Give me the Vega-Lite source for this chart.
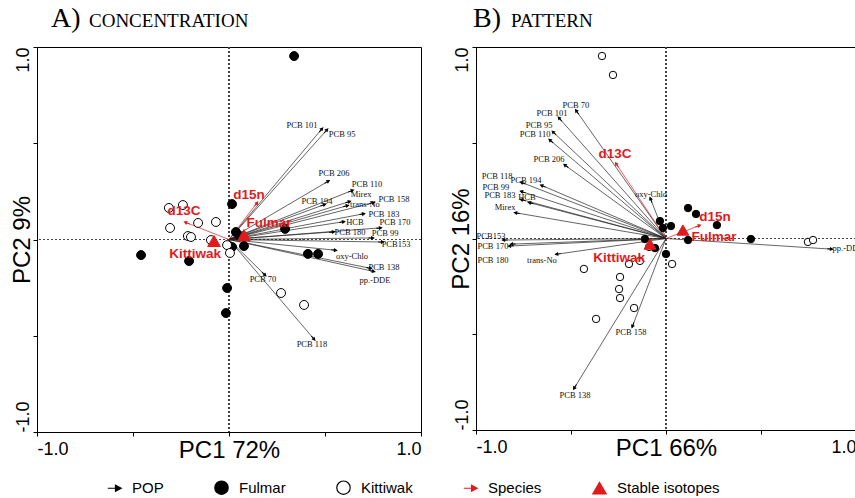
{
  "$schema": "https://vega.github.io/schema/vega-lite/v6.json",
  "padding": {"left": 9, "top": 4, "right": 0, "bottom": 0},
  "background": "white",
  "spacing": 26,
  "datasets": {
    "a": [
      {"cat": "Fulmar", "x": 0.339, "y": 0.953},
      {"cat": "Fulmar", "x": 0.016, "y": 0.184},
      {"cat": "Fulmar", "x": 0.036, "y": 0.039},
      {"cat": "Fulmar", "x": 0.057, "y": 0.018},
      {"cat": "Fulmar", "x": 0.016, "y": -0.039},
      {"cat": "Fulmar", "x": 0.078, "y": -0.034},
      {"cat": "Fulmar", "x": 0.292, "y": 0.055},
      {"cat": "Fulmar", "x": -0.458, "y": -0.081},
      {"cat": "Fulmar", "x": -0.208, "y": -0.112},
      {"cat": "Fulmar", "x": 0.411, "y": -0.075},
      {"cat": "Fulmar", "x": 0.464, "y": -0.075},
      {"cat": "Fulmar", "x": -0.010, "y": -0.252},
      {"cat": "Fulmar", "x": -0.016, "y": -0.382},
      {"cat": "Kittiwak", "x": -0.313, "y": 0.164},
      {"cat": "Kittiwak", "x": -0.240, "y": 0.179},
      {"cat": "Kittiwak", "x": -0.307, "y": 0.060},
      {"cat": "Kittiwak", "x": -0.161, "y": 0.086},
      {"cat": "Kittiwak", "x": -0.068, "y": 0.091},
      {"cat": "Kittiwak", "x": -0.214, "y": 0.018},
      {"cat": "Kittiwak", "x": -0.198, "y": 0.013},
      {"cat": "Kittiwak", "x": -0.094, "y": -0.003},
      {"cat": "Kittiwak", "x": -0.010, "y": -0.029},
      {"cat": "Kittiwak", "x": 0.005, "y": -0.070},
      {"cat": "Kittiwak", "x": 0.271, "y": -0.278},
      {"cat": "Kittiwak", "x": 0.391, "y": -0.340},
      {"cat": "POP", "x": 0.479, "y": 0.569, "label": "PCB 101", "lx": 0.380, "ly": 0.595},
      {"cat": "POP", "x": 0.505, "y": 0.564, "label": "PCB 95", "lx": 0.589, "ly": 0.548},
      {"cat": "POP", "x": 0.510, "y": 0.299, "label": "PCB 206", "lx": 0.547, "ly": 0.345},
      {"cat": "POP", "x": 0.635, "y": 0.252, "label": "PCB 110", "lx": 0.719, "ly": 0.288},
      {"cat": "POP", "x": 0.620, "y": 0.195, "label": "Mirex", "lx": 0.688, "ly": 0.236},
      {"cat": "POP", "x": 0.609, "y": 0.174, "label": "trans-No", "lx": 0.708, "ly": 0.184},
      {"cat": "POP", "x": 0.490, "y": 0.179, "label": "PCB 194", "lx": 0.458, "ly": 0.200},
      {"cat": "POP", "x": 0.745, "y": 0.190, "label": "PCB 158", "lx": 0.859, "ly": 0.210},
      {"cat": "POP", "x": 0.693, "y": 0.132, "label": "PCB 183", "lx": 0.807, "ly": 0.132},
      {"cat": "POP", "x": 0.589, "y": 0.091, "label": "HCB", "lx": 0.656, "ly": 0.091},
      {"cat": "POP", "x": 0.781, "y": 0.060, "label": "PCB 170", "lx": 0.865, "ly": 0.091},
      {"cat": "POP", "x": 0.536, "y": 0.039, "label": "PCB 180", "lx": 0.630, "ly": 0.039},
      {"cat": "POP", "x": 0.740, "y": 0.008, "label": "PCB 99", "lx": 0.813, "ly": 0.034},
      {"cat": "POP", "x": 0.792, "y": -0.013, "label": "PCB153", "lx": 0.870, "ly": -0.023},
      {"cat": "POP", "x": 0.547, "y": -0.055, "label": "oxy-Chlo", "lx": 0.641, "ly": -0.086},
      {"cat": "POP", "x": 0.729, "y": -0.148, "label": "PCB 138", "lx": 0.807, "ly": -0.143},
      {"cat": "POP", "x": 0.745, "y": -0.164, "label": "pp.-DDE", "lx": 0.760, "ly": -0.210},
      {"cat": "POP", "x": 0.182, "y": -0.179, "label": "PCB 70", "lx": 0.177, "ly": -0.205},
      {"cat": "POP", "x": 0.438, "y": -0.512, "label": "PCB 118", "lx": 0.432, "ly": -0.543},
      {"cat": "Species", "x": -0.219, "y": 0.086, "label": "d13C", "lx": -0.234, "ly": 0.148},
      {"cat": "Species", "x": 0.141, "y": 0.184, "label": "d15n", "lx": 0.104, "ly": 0.231},
      {"cat": "Stable isotopes", "x": 0.078, "y": 0.023, "label": "Fulmar", "lx": 0.208, "ly": 0.086},
      {"cat": "Stable isotopes", "x": -0.078, "y": -0.008, "label": "Kittiwak", "lx": -0.177, "ly": -0.075}
    ],
    "b": [
      {"cat": "Fulmar", "x": 0.116, "y": 0.159},
      {"cat": "Fulmar", "x": 0.158, "y": 0.128},
      {"cat": "Fulmar", "x": 0.268, "y": 0.070},
      {"cat": "Fulmar", "x": 0.026, "y": 0.065},
      {"cat": "Fulmar", "x": -0.016, "y": 0.055},
      {"cat": "Fulmar", "x": -0.032, "y": 0.091},
      {"cat": "Fulmar", "x": 0.116, "y": -0.008},
      {"cat": "Fulmar", "x": 0.447, "y": -0.003},
      {"cat": "Fulmar", "x": -0.111, "y": -0.003},
      {"cat": "Fulmar", "x": -0.058, "y": -0.050},
      {"cat": "Fulmar", "x": 0.000, "y": -0.081},
      {"cat": "Kittiwak", "x": -0.337, "y": 0.953},
      {"cat": "Kittiwak", "x": -0.279, "y": 0.854},
      {"cat": "Kittiwak", "x": -0.432, "y": -0.159},
      {"cat": "Kittiwak", "x": -0.195, "y": -0.133},
      {"cat": "Kittiwak", "x": -0.137, "y": -0.117},
      {"cat": "Kittiwak", "x": 0.032, "y": -0.133},
      {"cat": "Kittiwak", "x": -0.242, "y": -0.201},
      {"cat": "Kittiwak", "x": -0.247, "y": -0.264},
      {"cat": "Kittiwak", "x": -0.242, "y": -0.311},
      {"cat": "Kittiwak", "x": -0.168, "y": -0.363},
      {"cat": "Kittiwak", "x": -0.368, "y": -0.420},
      {"cat": "Kittiwak", "x": 0.747, "y": -0.018},
      {"cat": "Kittiwak", "x": 0.774, "y": -0.008},
      {"cat": "Kittiwak", "x": -0.089, "y": -0.044},
      {"cat": "POP", "x": -0.468, "y": 0.661, "label": "PCB 70", "lx": -0.474, "ly": 0.697},
      {"cat": "POP", "x": -0.558, "y": 0.624, "label": "PCB 101", "lx": -0.600, "ly": 0.655},
      {"cat": "POP", "x": -0.589, "y": 0.551, "label": "PCB 95", "lx": -0.668, "ly": 0.593},
      {"cat": "POP", "x": -0.605, "y": 0.509, "label": "PCB 110", "lx": -0.689, "ly": 0.546},
      {"cat": "POP", "x": -0.526, "y": 0.379, "label": "PCB 206", "lx": -0.616, "ly": 0.415},
      {"cat": "POP", "x": -0.753, "y": 0.290, "label": "PCB 118", "lx": -0.889, "ly": 0.326},
      {"cat": "POP", "x": -0.647, "y": 0.274, "label": "PCB 194", "lx": -0.737, "ly": 0.305},
      {"cat": "POP", "x": -0.753, "y": 0.243, "label": "PCB 99", "lx": -0.895, "ly": 0.269},
      {"cat": "POP", "x": -0.753, "y": 0.201, "label": "PCB 183", "lx": -0.874, "ly": 0.227},
      {"cat": "POP", "x": -0.711, "y": 0.185, "label": "HCB", "lx": -0.732, "ly": 0.217},
      {"cat": "POP", "x": -0.784, "y": 0.133, "label": "Mirex", "lx": -0.847, "ly": 0.164},
      {"cat": "POP", "x": -0.079, "y": 0.201, "label": "oxy-Chlo", "lx": -0.079, "ly": 0.232},
      {"cat": "POP", "x": -0.847, "y": -0.008, "label": "PCB153", "lx": -0.921, "ly": 0.013},
      {"cat": "POP", "x": -0.816, "y": -0.039, "label": "PCB 170", "lx": -0.911, "ly": -0.039},
      {"cat": "POP", "x": -0.805, "y": -0.029, "label": "PCB 180", "lx": -0.911, "ly": -0.112},
      {"cat": "POP", "x": -0.568, "y": -0.081, "label": "trans-No", "lx": -0.653, "ly": -0.112},
      {"cat": "POP", "x": -0.174, "y": -0.452, "label": "PCB 158", "lx": -0.184, "ly": -0.488},
      {"cat": "POP", "x": -0.479, "y": -0.775, "label": "PCB 138", "lx": -0.479, "ly": -0.817},
      {"cat": "POP", "x": 0.863, "y": -0.055, "label": "pp.-DDE", "lx": 0.958, "ly": -0.050},
      {"cat": "Species", "x": -0.258, "y": 0.384, "label": "d13C", "lx": -0.268, "ly": 0.441},
      {"cat": "Species", "x": 0.168, "y": 0.065, "label": "d15n", "lx": 0.258, "ly": 0.112},
      {"cat": "Stable isotopes", "x": 0.089, "y": 0.044, "label": "Fulmar", "lx": 0.253, "ly": 0.008},
      {"cat": "Stable isotopes", "x": -0.084, "y": -0.029, "label": "Kittiwak", "lx": -0.247, "ly": -0.102}
    ]
  },
  "hconcat": [
    {
      "width": 384,
      "height": 385,
      "data": {"name": "a"},
      "title": {"text": "A)", "subtitle": "\u200b\u00a0\u00a0\u00a0\u00a0\u00a0\u00a0\u00a0\u00a0CONCENTRATION", "dx": 14},
      "layer": [
        {
          "mark": {"type": "rule", "strokeDash": [2, 2], "strokeWidth": 0.8, "color": "#444"},
          "encoding": {
            "x": {"datum": 0, "type": "quantitative", "scale": {"domain": [-1, 1], "nice": false, "zero": false},
                  "axis": {"title": "PC1 72%", "values": [-1, -0.5, 0, 0.5, 1], "labelExpr": "datum.value==1 ? '1.0' : datum.value==-1 ? '-1.0' : ''", "labelFlush": true}}
          }
        },
        {
          "mark": {"type": "rule", "strokeDash": [2, 2], "strokeWidth": 0.8, "color": "#444"},
          "encoding": {
            "y": {"datum": 0, "type": "quantitative", "scale": {"domain": [-1, 1], "nice": false, "zero": false},
                  "axis": {"title": "PC2 9%", "values": [-1, -0.5, 0, 0.5, 1], "labelExpr": "datum.value==1 ? '1.0' : datum.value==-1 ? '-1.0' : ''",
                           "labelAlign": {"condition": {"test": "datum.value==1", "value": "right"}, "value": "left"}}}
          }
        },
        {
          "transform": [{"filter": "datum.cat=='POP' || datum.cat=='Species'"}],
          "mark": {"type": "rule", "strokeWidth": 0.7},
          "encoding": {
            "x": {"field": "x", "type": "quantitative"},
            "y": {"field": "y", "type": "quantitative"},
            "x2": {"datum": 0},
            "y2": {"datum": 0},
            "stroke": {"condition": {"test": "datum.cat=='Species'", "value": "#e31a1c"}, "value": "#222"}
          }
        },
        {
          "mark": {"type": "point", "opacity": 1, "strokeWidth": 1,
                   "size": {"expr": "datum.cat=='POP'||datum.cat=='Species' ? 30 : datum.cat=='Stable isotopes' ? 160 : 80"},
                   "angle": {"expr": "datum.cat=='POP'||datum.cat=='Species' ? atan2(-datum.y, datum.x)*180/PI : 0"}},
          "encoding": {
            "x": {"field": "x", "type": "quantitative"},
            "y": {"field": "y", "type": "quantitative"},
            "shape": {"field": "cat", "type": "nominal",
                      "scale": {"domain": ["POP", "Fulmar", "Kittiwak", "Species", "Stable isotopes"],
                                "range": ["M-1,0L0.3,0M1,0L0.15,-0.45L0.15,0.45Z", "circle", "circle", "M-1,0L0.3,0M1,0L0.15,-0.45L0.15,0.45Z", "triangle-up"]},
                      "legend": {"title": null, "orient": "none", "legendX": 70, "legendY": 433, "direction": "horizontal",
                                 "encode": {"symbols": {"update": {"size": {"value": 180}, "angle": {"value": 0}}}}}},
            "fill": {"field": "cat", "type": "nominal",
                     "scale": {"domain": ["POP", "Fulmar", "Kittiwak", "Species", "Stable isotopes"],
                               "range": ["#000000", "#000000", "#ffffff", "#e31a1c", "#e31a1c"]},
                     "legend": {"title": null, "orient": "none", "legendX": 70, "legendY": 433, "direction": "horizontal",
                                "encode": {"symbols": {"update": {"size": {"value": 180}, "angle": {"value": 0}}}}}},
            "stroke": {"field": "cat", "type": "nominal",
                       "scale": {"domain": ["POP", "Fulmar", "Kittiwak", "Species", "Stable isotopes"],
                                 "range": ["#000000", "#000000", "#000000", "#e31a1c", "#e31a1c"]},
                       "legend": {"title": null, "orient": "none", "legendX": 70, "legendY": 433, "direction": "horizontal",
                                  "encode": {"symbols": {"update": {"size": {"value": 180}, "angle": {"value": 0}}}}}}
          }
        },
        {
          "transform": [{"filter": "datum.cat=='POP'"}],
          "mark": {"type": "text", "font": "Liberation Serif", "fontSize": 8.5, "color": "#111"},
          "encoding": {
            "x": {"field": "lx", "type": "quantitative"},
            "y": {"field": "ly", "type": "quantitative"},
            "text": {"field": "label"}
          }
        },
        {
          "transform": [{"filter": "datum.cat=='Species' || datum.cat=='Stable isotopes'"}],
          "mark": {"type": "text", "font": "Liberation Sans", "fontSize": 13.5, "fontWeight": "bold", "color": "#e31a1c"},
          "encoding": {
            "x": {"field": "lx", "type": "quantitative"},
            "y": {"field": "ly", "type": "quantitative"},
            "text": {"field": "label"}
          }
        }
      ]
    },
    {
      "width": 380,
      "height": 383,
      "data": {"name": "b"},
      "title": {"text": "B)", "subtitle": "\u200b\u00a0\u00a0\u00a0\u00a0\u00a0\u00a0\u00a0\u00a0PATTERN", "dx": -3},
      "layer": [
        {
          "mark": {"type": "rule", "strokeDash": [2, 2], "strokeWidth": 0.8, "color": "#444"},
          "encoding": {
            "x": {"datum": 0, "type": "quantitative", "scale": {"domain": [-1, 1], "nice": false, "zero": false},
                  "axis": {"title": "PC1 66%", "values": [-1, -0.5, 0, 0.5, 1], "labelExpr": "datum.value==1 ? '1.0' : datum.value==-1 ? '-1.0' : ''", "labelFlush": true}}
          }
        },
        {
          "mark": {"type": "rule", "strokeDash": [2, 2], "strokeWidth": 0.8, "color": "#444"},
          "encoding": {
            "y": {"datum": 0, "type": "quantitative", "scale": {"domain": [-1, 1], "nice": false, "zero": false},
                  "axis": {"title": "PC2 16%", "values": [-1, -0.5, 0, 0.5, 1], "labelExpr": "datum.value==1 ? '1.0' : datum.value==-1 ? '-1.0' : ''",
                           "labelAlign": {"condition": {"test": "datum.value==1", "value": "right"}, "value": "left"}}}
          }
        },
        {
          "transform": [{"filter": "datum.cat=='POP' || datum.cat=='Species'"}],
          "mark": {"type": "rule", "strokeWidth": 0.7},
          "encoding": {
            "x": {"field": "x", "type": "quantitative"},
            "y": {"field": "y", "type": "quantitative"},
            "x2": {"datum": 0},
            "y2": {"datum": 0},
            "stroke": {"condition": {"test": "datum.cat=='Species'", "value": "#e31a1c"}, "value": "#222"}
          }
        },
        {
          "mark": {"type": "point", "opacity": 1, "strokeWidth": 1,
                   "size": {"expr": "datum.cat=='POP'||datum.cat=='Species' ? 30 : datum.cat=='Stable isotopes' ? 140 : 55"},
                   "angle": {"expr": "datum.cat=='POP'||datum.cat=='Species' ? atan2(-datum.y, datum.x)*180/PI : 0"}},
          "encoding": {
            "x": {"field": "x", "type": "quantitative"},
            "y": {"field": "y", "type": "quantitative"},
            "shape": {"field": "cat", "type": "nominal"},
            "fill": {"field": "cat", "type": "nominal"},
            "stroke": {"field": "cat", "type": "nominal"}
          }
        },
        {
          "transform": [{"filter": "datum.cat=='POP'"}],
          "mark": {"type": "text", "font": "Liberation Serif", "fontSize": 8.5, "color": "#111", "clip": true},
          "encoding": {
            "x": {"field": "lx", "type": "quantitative"},
            "y": {"field": "ly", "type": "quantitative"},
            "text": {"field": "label"}
          }
        },
        {
          "transform": [{"filter": "datum.cat=='Species' || datum.cat=='Stable isotopes'"}],
          "mark": {"type": "text", "font": "Liberation Sans", "fontSize": 13.5, "fontWeight": "bold", "color": "#e31a1c"},
          "encoding": {
            "x": {"field": "lx", "type": "quantitative"},
            "y": {"field": "ly", "type": "quantitative"},
            "text": {"field": "label"}
          }
        }
      ]
    }
  ],
  "resolve": {
    "scale": {"shape": "shared", "fill": "shared", "stroke": "shared"},
    "legend": {"shape": "shared", "fill": "shared", "stroke": "shared"}
  },
  "config": {
    "view": {"stroke": "#000", "strokeWidth": 1},
    "axis": {"grid": false, "domainColor": "#000", "tickColor": "#000", "labelColor": "#000", "titleColor": "#000",
             "labelFont": "Liberation Sans", "titleFont": "Liberation Sans", "labelFontSize": 18,
             "titleFontSize": 24, "titleFontWeight": "normal", "tickSize": 4, "domainWidth": 1},
    "axisX": {"labelPadding": 4, "titleBaseline": "alphabetic", "titleY": 25},
    "axisY": {"labelAngle": 270, "labelPadding": 1, "labelBaseline": "bottom", "labelFlush": false, "titleX": -3, "titleBaseline": "bottom"},
    "title": {"font": "Liberation Serif", "fontSize": 28, "fontWeight": "normal", "anchor": "start", "frame": "group",
              "color": "#000", "subtitleFont": "Liberation Serif", "subtitleFontSize": 19, "subtitleColor": "#000",
              "subtitlePadding": -21, "offset": 14},
    "legend": {"labelFont": "Liberation Sans", "labelFontSize": 15, "labelColor": "#000", "symbolSize": 180,
               "columnPadding": 48, "labelOffset": 10, "symbolStrokeWidth": 1.2}
  }
}
